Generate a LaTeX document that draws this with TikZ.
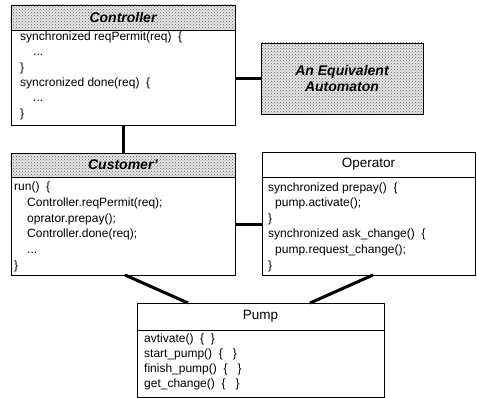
\documentclass[tikz,border=0pt]{standalone}
\usepackage{fontspec}
\setmainfont{Liberation Sans}
\usetikzlibrary{patterns}
\begin{document}
\begin{tikzpicture}[x=1pt,y=-1pt,
  box/.style={draw, line width=0.8pt, inner sep=0pt, outer sep=0pt, anchor=north west},
  hdr/.style={box, preaction={fill=black!10}, pattern=crosshatch dots, pattern color=black!60},
  plainhdr/.style={box},
  link/.style={line width=3pt},
  txt/.style={anchor=base west, inner sep=0pt, font=\fontsize{12}{14}\selectfont},
  bhdr/.style={font=\fontsize{14}{16}\selectfont\bfseries\itshape, align=center},
  rhdr/.style={font=\fontsize{13.5}{15}\selectfont}]
\useasboundingbox (0,0) rectangle (477,398);

% Controller
\node[box, minimum width=224pt, minimum height=120pt] (ctrl) at (11,5) {};
\node[hdr, minimum width=224pt, minimum height=25pt, bhdr] (ctrlh) at (11,5) {Controller};
\node[txt] (ctrl1) at (20,41) {synchronized reqPermit(req)\ \ \{};
\node[txt] (ctrl2) at (33,56) {...};
\node[txt] (ctrl3) at (20,72) {\}};
\node[txt] (ctrl4) at (20,87) {syncronized done(req)\ \ \{};
\node[txt] (ctrl5) at (33,102) {...};
\node[txt] (ctrl6) at (20,118) {\}};

% Automaton
\node[hdr, minimum width=162pt, minimum height=71pt, bhdr] (auto) at (261,43) {An Equivalent\\Automaton};

% Customer
\node[box, minimum width=224pt, minimum height=122pt] (cust) at (11,153) {};
\node[hdr, minimum width=224pt, minimum height=24pt, bhdr] (custh) at (11,153) {Customer'};
\node[txt] (cust1) at (14,191) {run()\ \ \{};
\node[txt] (cust2) at (27,207) {Controller.reqPermit(req);};
\node[txt] (cust3) at (27,223) {oprator.prepay();};
\node[txt] (cust4) at (27,238) {Controller.done(req);};
\node[txt] (cust5) at (27,254) {...};
\node[txt] (cust6) at (14,270) {\}};

% Operator
\node[box, minimum width=213pt, minimum height=123pt] (oper) at (262,152) {};
\node[plainhdr, minimum width=213pt, minimum height=25pt, rhdr] (operh) at (262,152) {Operator};
\node[txt] (oper1) at (268,192) {synchronized prepay()\ \ \{};
\node[txt] (oper2) at (275,207) {pump.activate();};
\node[txt] (oper3) at (268,223) {\}};
\node[txt] (oper4) at (268,238) {synchronized ask\_change()\ \ \{};
\node[txt] (oper5) at (275,254) {pump.request\_change();};
\node[txt] (oper6) at (268,270) {\}};

% Pump
\node[box, minimum width=247pt, minimum height=94pt] (pump) at (137,303) {};
\node[plainhdr, minimum width=247pt, minimum height=27pt, rhdr] (pumph) at (137,303) {Pump};
\node[txt] (pump1) at (144,342) {avtivate()\ \ \{\ \ \}};
\node[txt] (pump2) at (144,357) {start\_pump()\ \ \{\ \ \ \}};
\node[txt] (pump3) at (144,373) {finish\_pump()\ \ \{\ \ \ \}};
\node[txt] (pump4) at (144,388) {get\_change()\ \ \{\ \ \ \}};

% connectors
\coordinate (a1) at (123,125);
\draw[link] (ctrl.south -| a1) -- (custh.north -| a1);
\draw[link] (ctrl.east |- auto.west) -- (auto.west);
\coordinate (a2) at (0,225);
\draw[link] (cust.east |- a2) -- (oper.west |- a2);
\coordinate (p1) at (125,275);
\coordinate (p2) at (188,303);
\draw[link] (cust.south -| p1) -- (pumph.north -| p2);
\coordinate (q1) at (373,275);
\coordinate (q2) at (310,303);
\draw[link] (oper.south -| q1) -- (pumph.north -| q2);
\end{tikzpicture}
\end{document}
